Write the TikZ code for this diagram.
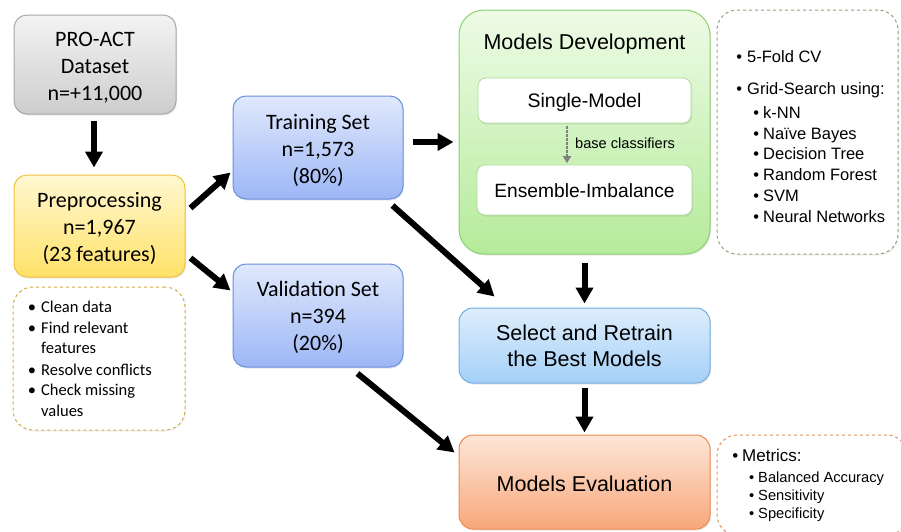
\documentclass[tikz,border=0pt]{standalone}
\usepackage{fontspec}
\setmainfont{Carlito}
\newfontfamily\arialf{Liberation Sans}
\usetikzlibrary{arrows.meta,shadows,calc}
\newcommand\padtop[1]{\rule{0pt}{#1}}
\definecolor{grayTop}{HTML}{F3F3F3}
\definecolor{grayBot}{HTML}{CDCDCD}
\definecolor{grayLine}{HTML}{A8A8A8}
\definecolor{yelTop}{HTML}{FFF8D2}
\definecolor{yelBot}{HTML}{FFE168}
\definecolor{yelLine}{HTML}{F2C23A}
\definecolor{bluTop}{HTML}{E0E8FC}
\definecolor{bluBot}{HTML}{9DB7F6}
\definecolor{bluLine}{HTML}{6A8FDB}
\definecolor{grnTop}{HTML}{EEFBE6}
\definecolor{grnBot}{HTML}{B5EB9B}
\definecolor{grnLine}{HTML}{8CCF6E}
\definecolor{selTop}{HTML}{DDEEFC}
\definecolor{selBot}{HTML}{A5D0F8}
\definecolor{selLine}{HTML}{74ACDF}
\definecolor{orTop}{HTML}{FDE6D8}
\definecolor{orBot}{HTML}{F8A77A}
\definecolor{orLine}{HTML}{EF8A4F}
\definecolor{dashYel}{HTML}{D4AA45}
\definecolor{dashGrn}{HTML}{8AA870}
\definecolor{dashOr}{HTML}{E0905E}
\begin{document}
\begin{tikzpicture}[x=1pt,y=-1pt,
  box/.style={draw, line width=1pt, align=center, inner sep=0pt,
    drop shadow={opacity=0.18,shadow xshift=1pt,shadow yshift=-1.5pt}},
  calfont/.style={font=\fontsize{22}{27}\selectfont},
  arfont/.style={font=\arialf\fontsize{21.5}{26}\selectfont},
  note/.style={draw, dashed, line width=1pt, rounded corners=20pt, fill=white,
    drop shadow={opacity=0.12,shadow xshift=1pt,shadow yshift=-1.5pt}},
  li/.style={anchor=base west, inner sep=0pt},
  bigarrow/.style={line width=6pt, -{Triangle[length=16pt,width=17pt]}},
  dotarrow/.style={draw=gray, line width=2.5pt, dash pattern=on 2.2pt off 1.8pt,
    -{Triangle[length=7pt,width=8pt]}}
]
\path[use as bounding box] (0,0) rectangle (901,531);
\clip (0,0) rectangle (901,531);

% left column
\node[box, rounded corners=13pt, top color=grayTop, bottom color=grayBot, draw=grayLine,
  minimum width=162pt, minimum height=99pt, calfont] (pro) at (95,64.5)
  {\padtop{21pt}PRO-ACT\\Dataset\\n=+11,000};
\node[box, rounded corners=13pt, top color=yelTop, bottom color=yelBot, draw=yelLine,
  minimum width=171pt, minimum height=102pt, calfont] (pre) at (99.5,226)
  {\padtop{21pt}Preprocessing\\n=1,967\\(23 features)};
\node[note, draw=dashYel, minimum width=172pt, minimum height=143pt] (prenote) at (99,358.5) {};
\begin{scope}[every node/.style={li, font=\fontsize{16.5}{20}\selectfont}]
\node (p1) at (41,312) {\llap{•\hspace{5pt}}Clean data};
\node (p2) at (41,333) {\llap{•\hspace{5pt}}Find relevant};
\node (p3) at (41,353) {features};
\node (p4) at (41,375) {\llap{•\hspace{5pt}}Resolve conflicts};
\node (p5) at (41,395) {\llap{•\hspace{5pt}}Check missing};
\node (p6) at (41,416) {values};
\end{scope}

% middle column
\node[box, rounded corners=13pt, top color=bluTop, bottom color=bluBot, draw=bluLine,
  minimum width=170pt, minimum height=103pt, calfont] (train) at (318,147.5)
  {\padtop{21pt}Training Set\\n=1,573\\(80\%)};
\node[box, rounded corners=13pt, top color=bluTop, bottom color=bluBot, draw=bluLine,
  minimum width=170pt, minimum height=103pt, calfont] (val) at (318,315.5)
  {\padtop{20pt}Validation Set\\n=394\\(20\%)};

% models development
\node[box, rounded corners=25pt, top color=grnTop, bottom color=grnBot, draw=grnLine,
  minimum width=251pt, minimum height=244pt] (dev) at (584.5,132) {};
\node[arfont, inner sep=0pt] (devtitle) at (584.5,43.5) {Models Development};
\node[box, rounded corners=8pt, fill=white, draw=grnLine!70, line width=0.8pt,
  minimum width=213pt, minimum height=45pt, font=\arialf\fontsize{19.5}{24}\selectfont]
  (single) at (584.5,100.5) {\padtop{18pt}Single-Model};
\node[box, rounded corners=8pt, fill=white, draw=grnLine!70, line width=0.8pt,
  minimum width=215pt, minimum height=50pt, font=\arialf\fontsize{19.2}{24}\selectfont]
  (ens) at (584.5,190) {\padtop{16pt}Ensemble-Imbalance};
\draw[dotarrow] ($(single.south)+(-17.5,3)$) -- ($(ens.north)+(-17.5,-1.5)$);
\node[li, font=\arialf\fontsize{14.6}{18}\selectfont] (bc) at (575,148) {base classifiers};

% right note
\node[note, draw=dashGrn, minimum width=181pt, minimum height=244pt] (cvnote) at (807.5,132) {};
\begin{scope}[every node/.style={li, font=\arialf\fontsize{16.5}{20}\selectfont}]
\node (c1) at (747,62) {\llap{•\hspace{5pt}}5-Fold CV};
\node (c2) at (747,94) {\llap{•\hspace{5pt}}Grid-Search using:};
\node (c3) at (763,118) {\llap{•\hspace{4pt}}k-NN};
\node (c4) at (763,139) {\llap{•\hspace{4pt}}Naïve Bayes};
\node (c5) at (763,159) {\llap{•\hspace{4pt}}Decision Tree};
\node (c6) at (763,180) {\llap{•\hspace{4pt}}Random Forest};
\node (c7) at (763,201) {\llap{•\hspace{4pt}}SVM};
\node (c8) at (763,222) {\llap{•\hspace{4pt}}Neural Networks};
\end{scope}

% select & evaluation
\node[box, rounded corners=14pt, top color=selTop, bottom color=selBot, draw=selLine,
  minimum width=251pt, minimum height=75pt, arfont] (sel) at (584.5,345.5)
  {\padtop{17pt}Select and Retrain\\the Best Models};
\node[box, rounded corners=14pt, top color=orTop, bottom color=orBot, draw=orLine,
  minimum width=251pt, minimum height=94pt, arfont] (eval) at (584.5,482)
  {\padtop{19.5pt}Models Evaluation};
\node[note, draw=dashOr, minimum width=190pt, minimum height=100pt] (metnote) at (812,485) {};
\node[li, font=\arialf\fontsize{17}{20}\selectfont] (m1) at (742,461) {\llap{•\hspace{4pt}}Metrics:};
\begin{scope}[every node/.style={li, font=\arialf\fontsize{14.7}{18}\selectfont}]
\node (m2) at (758,482) {\llap{•\hspace{4pt}}Balanced Accuracy};
\node (m3) at (758,500) {\llap{•\hspace{4pt}}Sensitivity};
\node (m4) at (758,518) {\llap{•\hspace{4pt}}Specificity};
\end{scope}

% arrows
\draw[bigarrow] ($(pro.south)+(-1,6)$) -- ($(pre.north)+(-5.5,-7)$);
\draw[bigarrow] ($(pre.east)+(5,-18)$) -- ($(train.west)+(-2,25)$);
\draw[bigarrow] ($(pre.east)+(5,32)$) -- ($(val.west)+(-2,-25)$);
\draw[bigarrow] ($(train.east)+(9,-5.5)$) -- ($(dev.west)+(-5,10)$);
\draw[bigarrow] ($(train.south east)+(-11,6)$) -- ($(sel.north west)+(36,-11)$);
\draw[bigarrow] ($(dev.south)+(0,8)$) -- ($(sel.north)+(0,-4)$);
\draw[bigarrow] ($(val.south east)+(-46,6)$) -- ($(eval.north west)+(-4,18)$);
\draw[bigarrow] ($(sel.south)+(0,4)$) -- ($(eval.north)+(0,-2)$);
\end{tikzpicture}
\end{document}
